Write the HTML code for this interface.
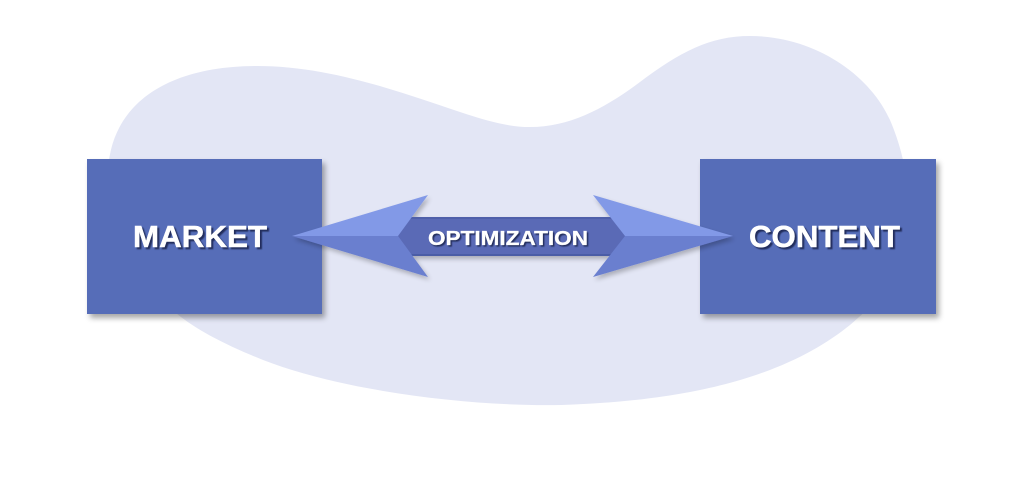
<!DOCTYPE html>
<html>
<head>
<meta charset="utf-8">
<style>
  html, body { margin:0; padding:0; background:#ffffff; }
  body { width:1024px; height:478px; overflow:hidden; }
  svg { display:block; }
  text { font-family: "Liberation Sans", Arial, sans-serif; font-weight:bold; }
</style>
</head>
<body>
<svg width="1024" height="478" viewBox="0 0 1024 478" xmlns="http://www.w3.org/2000/svg">
  <defs>
    <filter id="boxsh" x="-10%" y="-10%" width="125%" height="130%">
      <feGaussianBlur in="SourceAlpha" stdDeviation="3"/>
      <feOffset dx="3" dy="4" result="b"/>
      <feComponentTransfer><feFuncA type="linear" slope="0.35"/></feComponentTransfer>
      <feMerge><feMergeNode/><feMergeNode in="SourceGraphic"/></feMerge>
    </filter>
    <filter id="arrsh" x="-10%" y="-20%" width="125%" height="150%">
      <feGaussianBlur in="SourceAlpha" stdDeviation="2.5"/>
      <feOffset dx="2" dy="3" result="b"/>
      <feComponentTransfer><feFuncA type="linear" slope="0.25"/></feComponentTransfer>
      <feMerge><feMergeNode/><feMergeNode in="SourceGraphic"/></feMerge>
    </filter>
    <filter id="txtsh" x="-5%" y="-20%" width="115%" height="150%">
      <feGaussianBlur stdDeviation="0.4"/>
    </filter>
  </defs>

  <!-- background blob -->
  <path fill="#e3e6f5" d="M 257 66
    C 330 66, 400 92, 460 112
    C 490 122, 510 127, 530 127
    C 570 127, 605 108, 640 82
    C 680 52, 710 36, 750 36
    C 815 36, 870 75, 890 120
    C 905 155, 910 190, 908 220
    C 905 270, 880 300, 850 325
    C 800 365, 720 400, 561 405
    C 470 407, 330 390, 251 355
    C 215 340, 190 325, 176 313
    C 130 270, 106 230, 108 180
    C 106 110, 160 66, 257 66 Z"/>

  <!-- boxes -->
  <rect x="87" y="159" width="235" height="155" fill="#566db8" filter="url(#boxsh)"/>
  <rect x="700" y="159" width="236" height="155" fill="#566db8" filter="url(#boxsh)"/>

  <!-- arrow -->
  <g filter="url(#arrsh)">
    <rect x="392" y="217" width="240" height="39" fill="#5a6bb6"/>
    <rect x="392" y="217" width="240" height="2" fill="#4f60aa"/>
    <rect x="392" y="254" width="240" height="2" fill="#4c5da6"/>
    <polygon points="292,236 428,195 398,236" fill="#8299e7"/>
    <polygon points="292,236 398,236 428,277" fill="#6a7fcf"/>
    <polygon points="733,236 593,195 625,236" fill="#8299e7"/>
    <polygon points="733,236 625,236 593,277" fill="#6a7fcf"/>
  </g>

  <!-- labels -->
  <g font-size="31">
    <text x="202" y="249" text-anchor="middle" fill="#1f2852" opacity="0.9" stroke="#1f2852" stroke-width="0.5" textLength="134" lengthAdjust="spacingAndGlyphs" filter="url(#txtsh)">MARKET</text>
    <text x="200" y="247" text-anchor="middle" fill="#ffffff" stroke="#ffffff" stroke-width="0.5" textLength="134" lengthAdjust="spacingAndGlyphs">MARKET</text>
    <text x="826.5" y="249" text-anchor="middle" fill="#1f2852" opacity="0.9" stroke="#1f2852" stroke-width="0.5" textLength="151" lengthAdjust="spacingAndGlyphs" filter="url(#txtsh)">CONTENT</text>
    <text x="824.5" y="247" text-anchor="middle" fill="#ffffff" stroke="#ffffff" stroke-width="0.5" textLength="151" lengthAdjust="spacingAndGlyphs">CONTENT</text>
  </g>
  <g font-size="20.5">
    <text x="509.5" y="246.5" text-anchor="middle" fill="#1f2852" opacity="0.9" stroke="#1f2852" stroke-width="0.3" textLength="160" lengthAdjust="spacingAndGlyphs" filter="url(#txtsh)">OPTIMIZATION</text>
    <text x="508" y="245" text-anchor="middle" fill="#ffffff" stroke="#ffffff" stroke-width="0.3" textLength="160" lengthAdjust="spacingAndGlyphs">OPTIMIZATION</text>
  </g>
</svg>
</body>
</html>
